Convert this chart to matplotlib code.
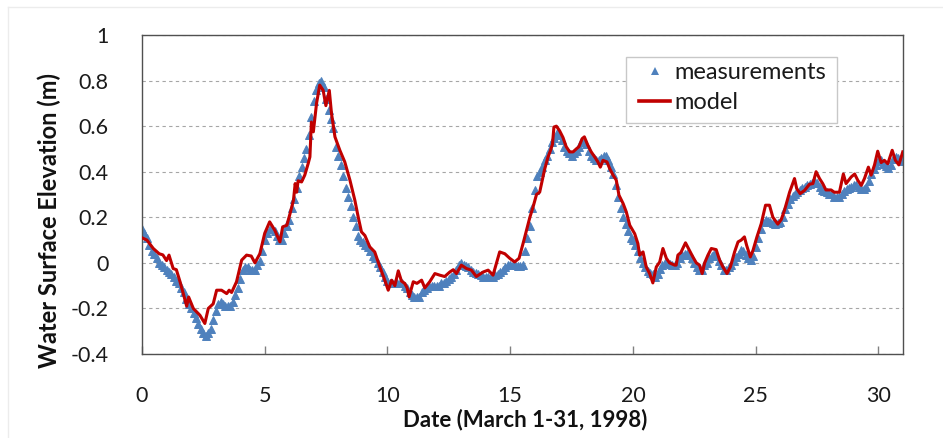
import numpy as np
import matplotlib
matplotlib.use("Agg")
import matplotlib.pyplot as plt
from matplotlib.lines import Line2D
from matplotlib.patches import Rectangle

# ---------------- data ----------------
# measurements: one value every 0.1 day, from day 0.0 to day 31.0
meas_step = 0.1
meas_values = [
    0.15, 0.13, 0.11, 0.08, 0.05, 0.04, 0.02, 0.00, -0.01, -0.02,
    -0.03, -0.04, -0.05, -0.06, -0.08, -0.09, -0.11, -0.13, -0.16, -0.18,
    -0.20, -0.22, -0.24, -0.27, -0.29, -0.31, -0.32, -0.31, -0.29, -0.25,
    -0.21, -0.18, -0.17, -0.18, -0.19, -0.19, -0.19, -0.17, -0.14, -0.11,
    -0.07, -0.03, -0.02, -0.02, -0.03, -0.03, -0.03, -0.01, 0.01, 0.05,
    0.10, 0.13, 0.15, 0.15, 0.14, 0.12, 0.10, 0.10, 0.13, 0.16,
    0.19, 0.24, 0.28, 0.33, 0.38, 0.42, 0.46, 0.50, 0.56, 0.64,
    0.71, 0.76, 0.79, 0.80, 0.77, 0.72, 0.67, 0.63, 0.59, 0.51,
    0.47, 0.43, 0.38, 0.33, 0.29, 0.25, 0.20, 0.16, 0.12, 0.10,
    0.09, 0.08, 0.07, 0.05, 0.03, 0.02, 0.00, -0.02, -0.04, -0.06,
    -0.08, -0.09, -0.09, -0.09, -0.09, -0.09, -0.09, -0.10, -0.11, -0.13,
    -0.14, -0.15, -0.15, -0.15, -0.13, -0.12, -0.11, -0.10, -0.10, -0.10,
    -0.10, -0.10, -0.09, -0.09, -0.08, -0.07, -0.06, -0.05, -0.03, -0.01,
    0.00, -0.01, -0.015, -0.02, -0.03, -0.04, -0.045, -0.05, -0.055, -0.06,
    -0.06, -0.06, -0.06, -0.06, -0.055, -0.05, -0.04, -0.03, -0.02, -0.01,
    -0.01, -0.01, -0.01, -0.015, -0.015, -0.01, 0.05, 0.11, 0.16, 0.24,
    0.32, 0.38, 0.40, 0.42, 0.45, 0.47, 0.50, 0.53, 0.55, 0.57,
    0.56, 0.54, 0.51, 0.49, 0.48, 0.47, 0.48, 0.49, 0.51, 0.53,
    0.53, 0.52, 0.49, 0.47, 0.46, 0.45, 0.45, 0.46, 0.47, 0.47,
    0.45, 0.42, 0.39, 0.34, 0.29, 0.24, 0.20, 0.17, 0.14, 0.11,
    0.10, 0.08, 0.05, 0.02, 0.00, -0.02, -0.035, -0.045, -0.05, -0.06,
    -0.05, -0.025, -0.01, 0.00, 0.00, -0.005, -0.01, -0.01, 0.00, 0.02,
    0.035, 0.04, 0.04, 0.035, 0.02, 0.00, -0.02, -0.03, -0.03, -0.01,
    0.00, 0.02, 0.03, 0.04, 0.03, 0.01, -0.01, -0.03, -0.03, -0.02,
    -0.01, 0.01, 0.025, 0.04, 0.055, 0.05, 0.035, 0.02, 0.012, 0.03,
    0.07, 0.11, 0.15, 0.18, 0.19, 0.185, 0.18, 0.175, 0.17, 0.175,
    0.18, 0.20, 0.235, 0.26, 0.28, 0.295, 0.30, 0.31, 0.32, 0.33,
    0.335, 0.34, 0.345, 0.35, 0.355, 0.35, 0.335, 0.32, 0.315, 0.31,
    0.30, 0.30, 0.29, 0.29, 0.29, 0.30, 0.315, 0.325, 0.33, 0.335,
    0.34, 0.34, 0.335, 0.325, 0.325, 0.335, 0.36, 0.39, 0.41, 0.43,
    0.445, 0.45, 0.435, 0.425, 0.415, 0.43, 0.455, 0.465, 0.46, 0.455,
    0.445,
]

# model: (day, elevation) pairs
model_days = [
    0.0, 0.2, 0.46, 0.7, 0.85, 1.0, 1.1, 1.27, 1.4, 1.55, 1.68, 1.82, 1.9,
    2.09, 2.36, 2.56, 2.7, 2.9, 3.04, 3.24, 3.45, 3.55, 3.65, 3.85, 4.06,
    4.26, 4.45, 4.6, 4.8, 5.0, 5.2, 5.41, 5.62, 5.73, 5.9, 6.03, 6.17, 6.24,
    6.3, 6.36, 6.5, 6.63, 6.77, 6.84, 6.9, 6.98, 7.11, 7.24, 7.38, 7.49,
    7.63, 7.72, 7.86, 8.06, 8.26, 8.47, 8.67, 8.81, 8.94, 9.08, 9.28, 9.48,
    9.69, 9.89, 10.03, 10.17, 10.3, 10.44, 10.57, 10.7, 10.8, 10.88, 11.05,
    11.2, 11.39, 11.52, 11.72, 11.93, 12.13, 12.33, 12.54, 12.68, 12.81,
    13.01, 13.22, 13.42, 13.62, 13.9, 14.1, 14.3, 14.57, 14.78, 14.98,
    15.18, 15.36, 15.56, 15.8, 15.93, 16.07, 16.2, 16.3, 16.4, 16.54,
    16.63, 16.72, 16.78, 16.88, 17.01, 17.15, 17.28, 17.42, 17.56, 17.69,
    17.8, 17.93, 18.02, 18.16, 18.3, 18.44, 18.57, 18.67, 18.78, 18.94,
    19.05, 19.19, 19.32, 19.43, 19.6, 19.73, 19.87, 20.07, 20.2, 20.27,
    20.41, 20.54, 20.68, 20.81, 20.95, 21.09, 21.22, 21.36, 21.49, 21.7,
    21.76, 21.83, 21.95, 22.14, 22.3, 22.44, 22.58, 22.71, 22.82, 22.92,
    23.05, 23.19, 23.39, 23.53, 23.66, 23.83, 23.97, 24.14, 24.28, 24.41,
    24.54, 24.63, 24.78, 24.89, 25.05, 25.22, 25.4, 25.56, 25.7, 25.9,
    26.04, 26.17, 26.38, 26.58, 26.67, 26.81, 26.99, 27.19, 27.33, 27.46,
    27.6, 27.73, 27.86, 28.07, 28.2, 28.41, 28.57, 28.68, 28.89, 29.03,
    29.16, 29.3, 29.43, 29.59, 29.7, 29.84, 29.97, 30.11, 30.24, 30.38,
    30.56, 30.69, 30.83, 30.99,
]
model_values = [
    0.11, 0.10, 0.063, 0.04, 0.035, 0.01, 0.034, -0.025, -0.03, -0.083,
    -0.135, -0.19, -0.15, -0.2, -0.23, -0.266, -0.2, -0.18, -0.12, -0.12,
    -0.135, -0.12, -0.13, -0.083, 0.012, 0.034, 0.03, 0.0, 0.04, 0.13,
    0.18, 0.143, 0.092, 0.158, 0.165, 0.216, 0.275, 0.348, 0.31, 0.36,
    0.355, 0.385, 0.436, 0.465, 0.618, 0.575, 0.7, 0.78, 0.757, 0.69,
    0.757, 0.655, 0.553, 0.494, 0.443, 0.363, 0.275, 0.2, 0.136, 0.12,
    0.07, 0.048, -0.018, -0.076, -0.12, -0.076, -0.1, -0.035, -0.08, -0.09,
    -0.11, -0.149, -0.083, -0.09, -0.076, -0.11, -0.083, -0.047, -0.054,
    -0.06, -0.04, -0.03, -0.047, -0.01, -0.025, -0.032, -0.06, -0.04,
    -0.032, -0.054, 0.048, 0.04, 0.02, 0.004, 0.02, 0.1, 0.2, 0.245, 0.3,
    0.31, 0.36, 0.41, 0.465, 0.49, 0.52, 0.596, 0.6, 0.58, 0.55, 0.51,
    0.487, 0.487, 0.5, 0.51, 0.545, 0.553, 0.516, 0.487, 0.465, 0.443,
    0.42, 0.45, 0.443, 0.414, 0.385, 0.363, 0.297, 0.26, 0.223, 0.165,
    0.128, 0.085, 0.034, 0.048, -0.018, -0.047, -0.088, -0.018, 0.004,
    0.063, 0.02, 0.0, -0.01, -0.01, 0.034, 0.045, 0.088, 0.055, 0.026,
    0.0, -0.01, -0.047, 0.0, 0.033, 0.063, 0.058, 0.012, -0.017, -0.047,
    -0.017, 0.048, 0.092, 0.1, 0.114, 0.077, 0.026, 0.055, 0.114, 0.17,
    0.253, 0.253, 0.2, 0.17, 0.19, 0.23, 0.31, 0.37, 0.326, 0.304, 0.318,
    0.345, 0.348, 0.4, 0.37, 0.348, 0.32, 0.32, 0.31, 0.31, 0.39, 0.348,
    0.377, 0.39, 0.362, 0.34, 0.37, 0.42, 0.385, 0.43, 0.49, 0.44, 0.45,
    0.435, 0.494, 0.45, 0.43, 0.487,
]

x_ticks = [0, 5, 10, 15, 20, 25, 30]
y_ticks = [-0.4, -0.2, 0, 0.2, 0.4, 0.6, 0.8, 1]
y_tick_labels = ["-0.4", "-0.2", "0", "0.2", "0.4", "0.6", "0.8", "1"]
x_label = "Date (March 1-31, 1998)"
y_label = "Water Surface Elevation (m)"
series_names = ["measurements", "model"]

# ---------------- figure ----------------
plt.rcParams['font.family'] = ['Lato', 'DejaVu Sans']
W, H = 943, 438
fig = plt.figure(figsize=(W / 100, H / 100), dpi=100)
fig.patch.set_facecolor('white')

L, R, T, B = 142, 903, 35, 354
ax = fig.add_axes([L / W, 1 - B / H, (R - L) / W, (B - T) / H])

meas_days = np.arange(len(meas_values)) * meas_step
ax.plot(meas_days, meas_values, linestyle='none', marker='^', markersize=5.8,
        color='#4F81BD', markeredgecolor='#4F81BD', markeredgewidth=0.7, zorder=2)
ax.plot(model_days, model_values, color='#C00000', lw=2.2, zorder=3,
        solid_joinstyle='round')

ax.set_xlim(0, 31)
ax.set_ylim(-0.4, 1)
ax.set_xticks(x_ticks)
ax.set_yticks(y_ticks)
ax.set_yticklabels(y_tick_labels)

ax.yaxis.grid(True, linestyle=(0, (3, 3)), color='#a6a6a6', lw=0.8)
ax.set_axisbelow(True)
for s in ax.spines.values():
    s.set_color('#505050')
    s.set_linewidth(1.0)

ax.tick_params(axis='y', length=0, pad=24, labelsize=15.5, labelcolor='#1a1a1a')
ax.tick_params(axis='x', direction='in', length=6, width=1, color='#808080',
               pad=23, labelsize=15.5, labelcolor='#1a1a1a', top=False)

ax.set_xlabel(x_label, fontsize=16, fontweight='bold', color='#111111')
ax.set_ylabel(y_label, fontsize=17, fontweight='bold', color='#111111')
ax.xaxis.set_label_coords(0.503, -0.172)
ax.yaxis.set_label_coords(-0.106, 0.42)

# legend
handles = [
    Line2D([], [], linestyle='none', marker='^', markersize=5.5,
           color='#4F81BD', markeredgewidth=0),
    Line2D([], [], color='#C00000', lw=2.6),
]
leg = fig.legend(handles, series_names, loc='upper left',
                 bbox_to_anchor=(632 / W, 1 - 55 / H), frameon=False,
                 fontsize=17, handlelength=1.32, handletextpad=0.18,
                 labelspacing=0.38, borderpad=0.3, borderaxespad=0)
for t in leg.get_texts():
    t.set_color('#1a1a1a')
fig.patches.append(Rectangle((626 / W, 1 - 123 / H), (837 - 626) / W, (123 - 57) / H,
                             transform=fig.transFigure, facecolor='white',
                             edgecolor='#c8c8c8', lw=1.0, zorder=1.5))
leg.set_zorder(5)

# faint chart-area border
fig.add_artist(Line2D([8 / W, 1], [1 - 7 / H, 1 - 7 / H], color='#ececec', lw=1,
                      transform=fig.transFigure))
fig.add_artist(Line2D([8 / W, 8 / W], [0, 1 - 7 / H], color='#ececec', lw=1,
                      transform=fig.transFigure))

fig.savefig('out.png', dpi=100, facecolor='white')
